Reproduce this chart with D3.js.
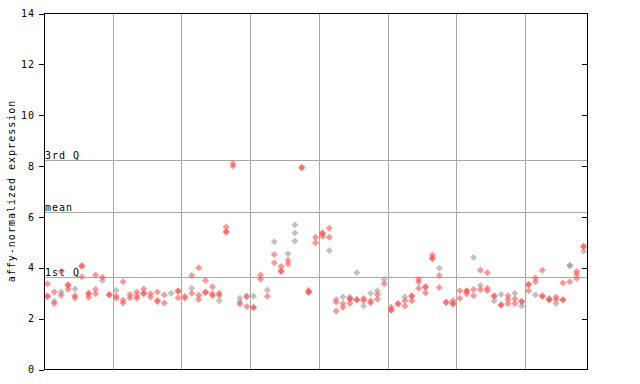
<!DOCTYPE html>
<html><head><meta charset="utf-8">
<script src="https://cdn.jsdelivr.net/npm/d3@7"></script>
<style>body{margin:0;background:#fff}svg{display:block}text{font-family:"DejaVu Sans Mono",monospace;font-size:10px;fill:#000;letter-spacing:1px}</style>
</head><body><svg id="c" width="640" height="384"></svg>
<script>
// per-sample replicate values (red series)
const redSeries = [
 [3.37,2.89,2.87],[3.05,2.6],[3.85,2.92],[3.33,3.30,3.16],[2.90,2.82],
 [4.09,4.05,3.65],[3.0,2.98,2.84],[3.72,3.16,2.98],[3.63],[2.95,2.93],
 [2.88,2.80],[3.45,2.72,2.62],[2.95,2.82],[3.05,2.9,2.8],[3.17,3.0,2.98],
 [2.98,2.85],[3.05,2.72,2.66],[2.94,2.62],[],[3.1,3.08,2.82],
 [2.88,2.8],[3.7,3.0],[4.0,2.92,2.75],[3.5,3.05,3.03],[3.25,2.98,2.9],
 [3.0,2.92],[5.6,5.43,5.41],[8.1,8.0],[2.58],[2.85,2.48],
 [2.45,2.43],[3.72,3.55],[2.88],[4.52,4.2],[4.05,3.87,3.85],
 [4.3,4.15],[],[7.95,7.92],[3.12,3.05,3.03],[5.2,4.98],
 [5.37,5.35,5.24],[5.55,5.2],[2.65,2.3],[2.6,2.45],[2.78,2.76,2.6],
 [2.75,2.73],[2.8,2.7],[2.7,2.62],[2.95,2.76],[3.37],
 [2.45,2.35,2.33],[2.6,2.58],[2.7,2.5],[2.9,2.88,2.7],[3.55,3.45,3.2],
 [3.25,3.23,3.02],[4.5,4.38,4.36],[3.7,3.22],[2.65,2.63],[2.7,2.6,2.58],
 [3.1,2.8],[3.1,3.08,2.98],[3.15,2.9],[3.9,3.15],[3.8,3.2,3.1],
 [2.9,2.88],[2.55,2.53],[2.9,2.75,2.6],[2.78,2.6],[2.68,2.66],
 [3.35,3.33,3.1],[3.6,3.45],[3.9,2.9,2.87],[2.75,2.73],[2.85,2.75],
 [3.4,2.75,2.73],[3.45],[3.85,3.75,3.58],[4.85,4.83]
];
// per-sample replicate values (grey series)
const graySeries = [
 [],[2.68],[3.05],[],[3.17],
 [],[],[],[3.5],[],
 [3.12],[],[],[],[],
 [],[],[],[3.0],[],
 [],[3.2],[],[],[],
 [2.7],[],[],[2.8,2.65],[2.9],
 [2.88],[],[3.13],[5.02],[],
 [4.55],[5.68,5.37,5.05],[],[],[],
 [],[4.68],[2.75],[2.85],[2.85],
 [3.8],[2.5],[3.0],[3.1],[3.55],
 [],[],[2.85],[],[],
 [],[],[3.98],[],[],
 [],[],[4.4],[3.3],[],
 [2.7],[2.95],[],[3.0],[2.5],
 [],[2.93],[],[2.8],[2.6],
 [],[4.1,4.08],[],[4.65]
];
const yTicks = [0,2,4,6,8,10,12,14];
const refLines = [{label:"3rd Q", v:8.22},{label:"mean", v:6.21},{label:"1st Q", v:3.62}];
const groupSize = 10;

const svg = d3.select("#c");
const L = 44, R = 587, T = 13.5, B = 369.5;
const n = redSeries.length;
const x = d3.scaleBand().domain(d3.range(n)).range([L, R]);
const y = d3.scaleLinear().domain([0,14]).range([B, T]);

// vertical group separators
const g = svg.append("g").attr("shape-rendering","crispEdges");
d3.range(groupSize, n, groupSize).forEach(i => {
  const xx = Math.round(x(i)) + 0.5;
  g.append("line").attr("x1",xx).attr("x2",xx).attr("y1",T).attr("y2",B)
   .attr("stroke","#a8a8a8").attr("stroke-width",1);
});
// reference lines
refLines.forEach(r => {
  const yy = Math.round(y(r.v)) + 0.5;
  g.append("line").attr("x1",L).attr("x2",R).attr("y1",yy).attr("y2",yy)
   .attr("stroke","#a8a8a8").attr("stroke-width",1);
  svg.append("text").attr("x",L+1).attr("y",yy-2).text(r.label);
});

// points
const diamond = (cx, cy) => `M${cx},${cy-3.5}L${cx+3.5},${cy}L${cx},${cy+3.5}L${cx-3.5},${cy}Z`;
function drawSeries(series, color) {
  series.forEach((vals, i) => {
    const cx = x(i) + x.bandwidth()/2;
    vals.forEach(v => {
      svg.append("path").attr("d", diamond(cx, y(v)))
        .attr("fill", color).attr("fill-opacity", 0.6);
    });
  });
}
drawSeries(graySeries, "#9a9a9a");
drawSeries(redSeries, "#ff5050");

// frame and axes
const ax = svg.append("g").attr("shape-rendering","crispEdges");
ax.append("rect").attr("x",L+0.5).attr("y",T).attr("width",R-L).attr("height",B-T)
  .attr("fill","none").attr("stroke","#000").attr("stroke-width",1);
const left = d3.axisLeft(y).tickValues(yTicks).tickSize(5).tickPadding(4).tickFormat(d3.format("d"));
ax.append("g").attr("transform",`translate(${L},0)`).call(left)
  .call(s => s.select(".domain").remove())
  .call(s => s.selectAll("text").attr("font-family","DejaVu Sans Mono").attr("font-size",10).attr("fill","#000"));
const right = d3.axisLeft(y).tickValues(yTicks.slice(1,-1)).tickSize(5).tickFormat("");
ax.append("g").attr("transform",`translate(${R},0)`).call(right)
  .call(s => s.select(".domain").remove());

svg.append("text").attr("transform","translate(15,191) rotate(-90)")
  .attr("text-anchor","middle").text("affy-normalized expression");
</script></body></html>
